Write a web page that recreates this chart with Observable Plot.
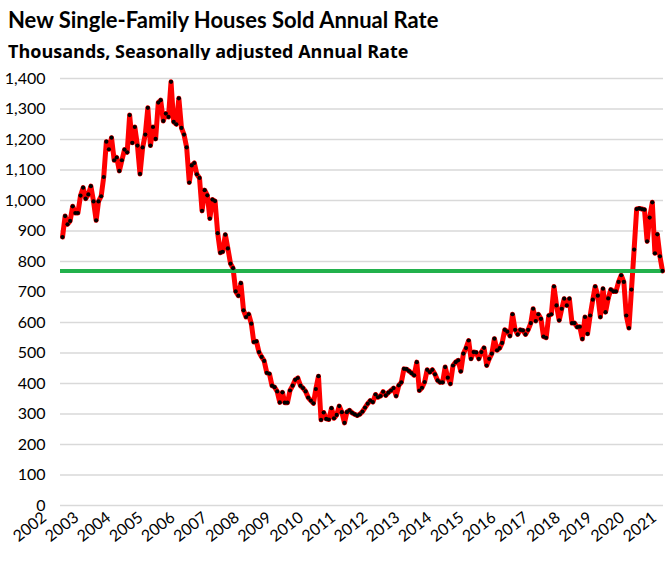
<!DOCTYPE html>
<html>
<head>
<meta charset="utf-8">
<script src="https://cdn.jsdelivr.net/npm/d3@7"></script>
<script src="https://cdn.jsdelivr.net/npm/@observablehq/plot@0.6"></script>
<style>
  html, body { margin: 0; padding: 0; background: #fff; }
  #wrap { position: relative; width: 669px; height: 561px; overflow: hidden; font-family: Lato, "Open Sans", sans-serif; }
  #title { position: absolute; left: 8px; top: 6px; font-size: 22px; line-height: 28px; font-weight: 700; color: #000; white-space: nowrap; }
  #subtitle { position: absolute; left: 8px; top: 40px; font-family: "Open Sans", Lato, sans-serif; font-size: 18px; line-height: 22px; font-weight: 700; color: #000; white-space: nowrap; }
  #chart { position: absolute; left: 0; top: 60px; }
</style>
</head>
<body>
<div id="wrap">
  <div id="title">New Single-Family Houses Sold Annual Rate</div>
  <div id="subtitle">Thousands, Seasonally adjusted Annual Rate</div>
  <div id="chart"></div>
</div>
<script>
// First month of the series and monthly values (thousands, SAAR), Jan 2002 – May 2021
const startMonth = "2002-01-01";
const sales2002 = [880, 949, 922, 933, 981, 959, 959, 1016, 1042, 1006, 1020, 1047];
const sales2003 = [997, 935, 997, 1014, 1077, 1193, 1168, 1206, 1132, 1141, 1097, 1132];
const sales2004 = [1167, 1158, 1280, 1189, 1241, 1180, 1087, 1174, 1216, 1304, 1180, 1241];
const sales2005 = [1202, 1321, 1329, 1261, 1285, 1274, 1389, 1258, 1250, 1335, 1238, 1216];
const sales2006 = [1174, 1059, 1115, 1123, 1086, 1074, 966, 1034, 1017, 941, 1003, 998];
const sales2007 = [893, 829, 832, 888, 843, 793, 778, 702, 688, 729, 640, 618];
const sales2008 = [627, 596, 536, 538, 503, 487, 474, 435, 432, 393, 388, 374];
const sales2009 = [338, 371, 337, 337, 377, 393, 412, 418, 393, 385, 374, 354];
const sales2010 = [344, 335, 382, 424, 281, 305, 284, 282, 319, 286, 297, 326];
const sales2011 = [306, 271, 306, 312, 304, 299, 295, 299, 308, 321, 334, 344];
const sales2012 = [339, 364, 355, 359, 373, 361, 370, 377, 385, 359, 394, 404];
const sales2013 = [448, 447, 441, 434, 427, 470, 377, 386, 405, 445, 437, 445];
const sales2014 = [430, 410, 404, 404, 454, 419, 399, 459, 470, 476, 440, 498];
const sales2015 = [516, 541, 481, 503, 502, 481, 503, 517, 459, 481, 498, 547];
const sales2016 = [509, 516, 533, 576, 570, 556, 627, 576, 561, 576, 574, 561];
const sales2017 = [576, 598, 645, 605, 627, 612, 554, 550, 623, 627, 718, 656];
const sales2018 = [607, 645, 678, 656, 678, 598, 598, 585, 586, 546, 618, 563];
const sales2019 = [623, 675, 718, 688, 618, 711, 634, 679, 708, 702, 702, 733];
const sales2020 = [755, 733, 623, 582, 708, 839, 972, 974, 972, 970, 866, 944];
const sales2021 = [994, 827, 889, 817, 769];
const latestLevel = 769;           // green reference line = latest reading
const yTicks = [0, 100, 200, 300, 400, 500, 600, 700, 800, 900, 1000, 1100, 1200, 1300, 1400];
const yearLabels = ["2002","2003","2004","2005","2006","2007","2008","2009","2010","2011","2012","2013","2014","2015","2016","2017","2018","2019","2020","2021"];

const allValues = [].concat(sales2002, sales2003, sales2004, sales2005, sales2006, sales2007,
  sales2008, sales2009, sales2010, sales2011, sales2012, sales2013, sales2014, sales2015,
  sales2016, sales2017, sales2018, sales2019, sales2020, sales2021);
const start = new Date(startMonth);
const data = allValues.map((v, i) => ({date: d3.utcMonth.offset(start, i), value: v}));
// the source chart's category labels drift slightly wider than whole years
const yearTicks = yearLabels.map((y, i) => d3.utcDay.offset(new Date(y + "-01-01"), Math.round(i * 12.5)));

const chart = Plot.plot({
  width: 669,
  height: 501,
  marginLeft: 62,
  marginRight: 7,
  marginTop: 18,
  marginBottom: 56,
  style: {fontFamily: "Lato, 'Open Sans', sans-serif", fontSize: "16px", color: "#000", background: "#fff"},
  x: {type: "utc", domain: [data[0].date, data[data.length - 1].date]},
  y: {domain: [0, 1400]},
  marks: [
    Plot.ruleY(yTicks, {stroke: "#d9d9d9", strokeWidth: 1.5, insetLeft: -2, insetRight: -1}),
    Plot.axisY({ticks: yTicks, tickSize: 0, tickPadding: 17, tickFormat: d3.format(","), label: null, fill: "#000"}),
    Plot.axisX({ticks: yearTicks, tickSize: 0, tickRotate: -38, tickPadding: 10, dx: -18, tickFormat: (d, i) => yearLabels[i], label: null, fill: "#000"}),
    Plot.line(data, {x: "date", y: "value", stroke: "#ff0000", strokeWidth: 5, strokeLinejoin: "round"}),
    Plot.ruleY([latestLevel], {stroke: "#22b14c", strokeWidth: 4, insetLeft: -2, insetRight: 0}),
    Plot.dot(data, {x: "date", y: "value", r: 2.1, fill: "#000", stroke: null})
  ]
});
document.getElementById("chart").appendChild(chart);
</script>
</body>
</html>
